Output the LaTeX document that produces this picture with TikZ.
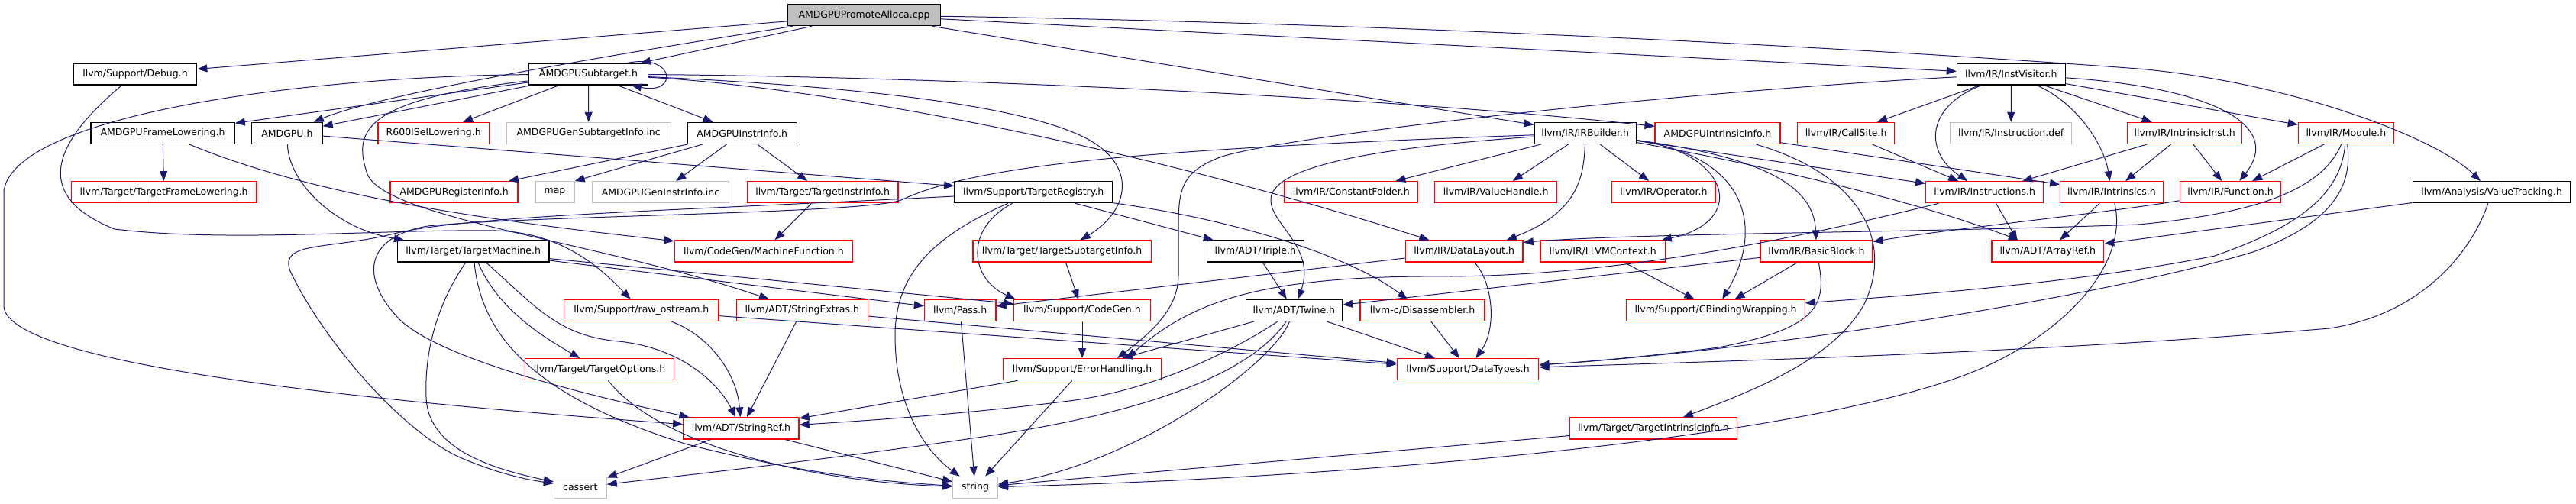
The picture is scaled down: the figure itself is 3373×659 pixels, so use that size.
\documentclass[tikz,border=0pt]{standalone}
\usepackage{fontspec}
\setmainfont{DejaVu Sans}
\usetikzlibrary{arrows.meta}
\definecolor{eblue}{HTML}{191970}
\definecolor{gseventyfive}{HTML}{BFBFBF}
\begin{document}
\begin{tikzpicture}[x=1pt,y=-1pt,
 box/.style={draw=black, line width=1.3pt, minimum height=28pt, inner sep=0pt, fill=white, text=black, font=\fontsize{12.5pt}{14pt}\selectfont},
 rbox/.style={box, draw=red},
 gbox/.style={box, draw=gseventyfive},
 tbox/.style={box, fill=gseventyfive},
 e/.style={draw=eblue, line width=1pt, -{Triangle[length=13pt,width=10pt]}}
]
\useasboundingbox (0,0) rectangle (3373,659);
% row 1
\node[tbox, minimum width=200pt] (top) at (1131.5,19.7) {AMDGPUPromoteAlloca.cpp};
% row 2
\node[box, minimum width=161.4pt] (debug) at (177,97.0) {llvm/Support/Debug.h};
\node[box, minimum width=155.6pt] (subt) at (770.5,97.0) {AMDGPUSubtarget.h};
\node[box, minimum width=141.8pt] (instv) at (2633.3,97.0) {llvm/IR/InstVisitor.h};
% row 3
\node[box, minimum width=188.3pt] (frlow) at (213,174.4) {AMDGPUFrameLowering.h};
\node[box, minimum width=92.3pt] (amdgpu) at (375.9,174.4) {AMDGPU.h};
\node[rbox, minimum width=145.2pt] (r600) at (567.7,174.4) {R600ISelLowering.h};
\node[gbox, minimum width=214.9pt] (gensub) at (770.7,174.4) {AMDGPUGenSubtargetInfo.inc};
\node[box, minimum width=142.9pt] (instrinfo) at (971.7,174.4) {AMDGPUInstrInfo.h};
\node[box, minimum width=133.4pt] (irb) at (2075.7,174.4) {llvm/IR/IRBuilder.h};
\node[rbox, minimum width=163.8pt] (intrinfo) at (2249,174.4) {AMDGPUIntrinsicInfo.h};
\node[rbox, minimum width=126.8pt] (callsite) at (2417.2,174.4) {llvm/IR/CallSite.h};
\node[gbox, minimum width=158.9pt] (instdef) at (2633.2,174.4) {llvm/IR/Instruction.def};
\node[rbox, minimum width=150pt] (intrinst) at (2860.6,174.4) {llvm/IR/IntrinsicInst.h};
\node[rbox, minimum width=124.7pt] (module) at (3071.8,174.4) {llvm/IR/Module.h};
% row 4
\node[rbox, minimum width=242.5pt] (tfl) at (214.7,251.7) {llvm/Target/TargetFrameLowering.h};
\node[rbox, minimum width=167pt] (reginfo) at (594.6,251.7) {AMDGPURegisterInfo.h};
\node[gbox, minimum width=50.9pt] (map) at (726.5,251.7) {map};
\node[gbox, minimum width=178.8pt] (geninstr) at (865,251.7) {AMDGPUGenInstrInfo.inc};
\node[rbox, minimum width=197.6pt] (tii) at (1077.2,251.7) {llvm/Target/TargetInstrInfo.h};
\node[box, minimum width=206.8pt] (treg) at (1353.2,251.7) {llvm/Support/TargetRegistry.h};
\node[rbox, minimum width=174.9pt] (cfold) at (1769.3,251.7) {llvm/IR/ConstantFolder.h};
\node[rbox, minimum width=159.6pt] (vh) at (1958.6,251.7) {llvm/IR/ValueHandle.h};
\node[rbox, minimum width=135.3pt] (oper) at (2178.4,251.7) {llvm/IR/Operator.h};
\node[rbox, minimum width=153.8pt] (insts) at (2598.6,251.7) {llvm/IR/Instructions.h};
\node[rbox, minimum width=134.7pt] (intrs) at (2765,251.7) {llvm/IR/Intrinsics.h};
\node[rbox, minimum width=132pt] (func) at (2920.5,251.7) {llvm/IR/Function.h};
\node[box, minimum width=206.9pt] (vt) at (3262.6,251.7) {llvm/Analysis/ValueTracking.h};
% row 5
\node[box, minimum width=198.4pt] (tm) at (619.7,329.0) {llvm/Target/TargetMachine.h};
\node[rbox, minimum width=233.3pt] (mf) at (999.9,329.0) {llvm/CodeGen/MachineFunction.h};
\node[rbox, minimum width=233.3pt] (tsi) at (1390.5,329.0) {llvm/Target/TargetSubtargetInfo.h};
\node[box, minimum width=127.1pt] (triple) at (1643.8,329.0) {llvm/ADT/Triple.h};
\node[rbox, minimum width=153.8pt] (dl) at (1917.2,329.0) {llvm/IR/DataLayout.h};
\node[rbox, minimum width=163.2pt] (ctx) at (2098.6,329.0) {llvm/IR/LLVMContext.h};
\node[rbox, minimum width=146.8pt] (bb) at (2378.5,329.0) {llvm/IR/BasicBlock.h};
\node[rbox, minimum width=146.8pt] (aref) at (2681.3,329.0) {llvm/ADT/ArrayRef.h};
% row 6
\node[rbox, minimum width=202.5pt] (ros) at (839.8,406.4) {llvm/Support/raw\_ostream.h};
\node[rbox, minimum width=172.2pt] (sext) at (1050.3,406.4) {llvm/ADT/StringExtras.h};
\node[rbox, minimum width=93.4pt] (pass) at (1257.2,406.4) {llvm/Pass.h};
\node[rbox, minimum width=179.6pt] (cgen) at (1417,406.4) {llvm/Support/CodeGen.h};
\node[box, minimum width=126.3pt] (twine) at (1694.3,406.4) {llvm/ADT/Twine.h};
\node[rbox, minimum width=162.9pt] (disasm) at (1862.5,406.4) {llvm-c/Disassembler.h};
\node[rbox, minimum width=233.5pt] (cbw) at (2246.5,406.4) {llvm/Support/CBindingWrapping.h};
% row 7
\node[rbox, minimum width=194.8pt] (topt) at (785,483.7) {llvm/Target/TargetOptions.h};
\node[rbox, minimum width=206.5pt] (errh) at (1417,483.7) {llvm/Support/ErrorHandling.h};
\node[rbox, minimum width=185.4pt] (dtypes) at (1922.1,483.7) {llvm/Support/DataTypes.h};
% row 8
\node[rbox, minimum width=151.2pt] (sref) at (970.4,561.0) {llvm/ADT/StringRef.h};
\node[rbox, minimum width=219pt] (tii2) at (2165,561.0) {llvm/Target/TargetIntrinsicInfo.h};
% row 9
\node[gbox, minimum width=68.7pt] (cassert) at (759.8,638.3) {cassert};
\node[gbox, minimum width=58.9pt] (string) at (1277,638.3) {string};

% ---- edges from the top file
\draw[e] (top) -- (debug);
\draw[e] (top) .. controls (620,100) and (470,135) .. (amdgpu);
\draw[e] (top) -- (subt);
\draw[e] (top) -- (irb);
\draw[e] (top) -- (instv);
\draw[e] (top) .. controls (1800,30) and (2400,60) .. (2800,90) .. controls (3000,108) and (3190,180) .. (vt);
% ---- AMDGPUSubtarget.h
\draw[e] ([xshift=-27pt]subt.north east) .. controls (885,70) and (888,125) .. ([xshift=-22pt]subt.south east);
\draw[e] (subt) -- (amdgpu);
\draw[e] (subt) -- (frlow);
\draw[e] (subt) -- (r600);
\draw[e] (subt) -- (gensub);
\draw[e] (subt) -- (instrinfo);
\draw[e] (subt) .. controls (1200,100) and (1800,125) .. (intrinfo);
\draw[e] (subt) .. controls (1100,112) and (1330,135) .. (1420,180) .. controls (1490,215) and (1480,275) .. (tsi);
\draw[e] (subt) .. controls (1050,112) and (1450,180) .. (dl);
\draw[e] (subt) .. controls (400,100) and (20,150) .. (5,250) -- (5,400) .. controls (5,470) and (400,520) .. (sref);
\draw[e] (subt) .. controls (480,130) and (462,170) .. (480,225) .. controls (495,285) and (780,315) .. (sext);
% ---- Debug.h
\draw[e] (debug) .. controls (90,170) and (25,250) .. (150,300) .. controls (300,318) and (500,300) .. (650,302) .. controls (740,305) and (790,355) .. (ros);
% ---- InstVisitor.h
\draw[e] (instv) -- (callsite);
\draw[e] (instv) -- (instdef);
\draw[e] (instv) .. controls (2520,140) and (2520,200) .. (insts);
\draw[e] (instv) .. controls (2720,135) and (2755,190) .. (intrs);
\draw[e] (instv) -- (intrinst);
\draw[e] (instv) -- (module);
\draw[e] (instv) .. controls (2900,115) and (2990,165) .. (func);
\draw[e] (instv) .. controls (2200,120) and (1700,175) .. (1600,205) .. controls (1545,225) and (1543,250) .. (1543,300) -- (1543,360) .. controls (1543,400) and (1515,430) .. ([xshift=-58pt]errh.north east);
% ---- AMDGPUFrameLowering.h
\draw[e] (frlow) -- (tfl);
\draw[e] (frlow) .. controls (430,265) and (700,295) .. (mf);
% ---- AMDGPU.h
\draw[e] (amdgpu) -- (treg);
\draw[e] (amdgpu) .. controls (378,240) and (440,300) .. (tm);
% ---- AMDGPUInstrInfo.h
\draw[e] (instrinfo) -- (reginfo);
\draw[e] ([xshift=-52pt]instrinfo.south) -- (map.north east);
\draw[e] (instrinfo) -- (geninstr);
\draw[e] (instrinfo) -- (tii);
% ---- IRBuilder.h
\draw[e] (irb) -- (cfold);
\draw[e] (irb) -- (vh);
\draw[e] (irb) -- (oper);
\draw[e] (irb) .. controls (2074,240) and (2060,280) .. ([xshift=-22pt]dl.north east);
\draw[e] (irb) -- (insts);
\draw[e] (irb) .. controls (2300,215) and (2500,260) .. (aref);
\draw[e] (irb) .. controls (2300,205) and (2375,240) .. (bb);
\draw[e] (irb) .. controls (2265,200) and (2290,290) .. ([xshift=-5pt]ctx.north east);
\draw[e] (irb) .. controls (2290,205) and (2310,300) .. (cbw);
\draw[e] (irb) .. controls (1850,190) and (1680,210) .. (1665,255) .. controls (1655,290) and (1725,320) .. (twine);
\draw[e] (irb) .. controls (1500,195) and (1280,215) .. (1180,262) .. controls (1130,280) and (700,282) .. (560,296) .. controls (480,310) and (470,360) .. (520,415) .. controls (570,470) and (780,520) .. (sref);
% ---- TargetMachine.h
\draw[e] (tm) .. controls (585,380) and (555,440) .. (558,520) .. controls (560,590) and (650,615) .. (cassert);
\draw[e] (tm) .. controls (630,440) and (700,520) .. (900,582) .. controls (1050,620) and (1150,630) .. (string);
\draw[e] (tm) .. controls (650,400) and (700,435) .. (topt);
\draw[e] (tm) .. controls (700,400) and (730,440) .. (810,447) .. controls (890,455) and (940,500) .. (sref);
\draw[e] (tm) -- (cgen);
\draw[e] (tm) -- (pass);
% ---- others in row 4/5
\draw[e] (tii) -- (mf);
\draw[e] (treg) .. controls (1262,300) and (1270,365) .. ([xshift=3pt]cgen.north west);
\draw[e] (treg) .. controls (1220,310) and (1172,360) .. (1172,440) .. controls (1172,530) and (1210,590) .. (string);
\draw[e] (treg) -- (triple);
\draw[e] (treg) .. controls (1600,285) and (1760,330) .. (disasm);
\draw[e] (treg) .. controls (900,275) and (620,282) .. (520,305) .. controls (430,328) and (365,315) .. (380,355) .. controls (420,440) and (520,560) .. (600,598) .. controls (650,620) and (690,628) .. (cassert);
\draw[e] (tsi) -- (cgen);
\draw[e] (triple) -- (twine);
\draw[e] (dl) -- (pass);
\draw[e] (dl) .. controls (1955,370) and (1960,430) .. (dtypes);
\draw[e] (ctx) -- (cbw);
\draw[e] (bb) -- (cbw);
\draw[e] (bb) -- (twine);
\draw[e] (bb) .. controls (2392,400) and (2380,430) .. (2250,455) .. controls (2150,468) and (2060,475) .. (dtypes);
\draw[e] (func) .. controls (2750,280) and (2550,300) .. (bb);
\draw[e] (module) -- (func);
\draw[e] (module) .. controls (3040,250) and (2950,280) .. (2800,294) .. controls (2500,305) and (2150,305) .. ([yshift=-3pt]dl.north east);
\draw[e] (module) .. controls (3065,260) and (3000,300) .. (2900,335) .. controls (2700,375) and (2450,390) .. (cbw);
\draw[e] (module) .. controls (3080,240) and (3060,290) .. (2950,330) .. controls (2750,390) and (2300,460) .. (dtypes);
\draw[e] (vt) -- (aref);
\draw[e] (vt) .. controls (3240,320) and (3180,410) .. (3050,430) .. controls (2700,460) and (2300,472) .. (dtypes);
\draw[e] (intrinst) -- (insts);
\draw[e] (intrinst) -- (intrs);
\draw[e] (intrinst) -- (func);
\draw[e] (callsite) -- (insts);
\draw[e] (intrinfo) -- (intrs);
\draw[e] (intrinfo) .. controls (2440,230) and (2480,320) .. (2440,400) .. controls (2400,470) and (2300,510) .. (tii2);
\draw[e] (intrs) .. controls (2785,330) and (2730,420) .. (2600,480) .. controls (2400,570) and (1800,625) .. (string);
\draw[e] (intrs) -- (aref);
\draw[e] ([xshift=15pt]insts.south) -- ([xshift=-40pt]aref.north);
\draw[e] (insts) .. controls (2400,300) and (2150,360) .. (1900,362) .. controls (1650,360) and (1560,395) .. ([xshift=-45pt]errh.north east);
% ---- rows 6-8
\draw[e] (sext) -- (sref);
\draw[e] (sext) -- (dtypes);
\draw[e] (ros) .. controls (930,440) and (965,490) .. (sref);
\draw[e] (ros) -- (dtypes);
\draw[e] (pass) -- (string);
\draw[e] (cgen) -- (errh);
\draw[e] (disasm) -- (dtypes);
\draw[e] (twine) -- (errh);
\draw[e] (twine) .. controls (1630,450) and (1520,510) .. (1400,525) .. controls (1250,544) and (1100,553) .. (sref);
\draw[e] (twine) .. controls (1650,470) and (1560,530) .. (1300,570) .. controls (1100,600) and (900,622) .. (cassert);
\draw[e] (twine) .. controls (1665,480) and (1480,610) .. (string);
\draw[e] (twine) -- (dtypes);
\draw[e] (topt) .. controls (860,580) and (1050,630) .. (string);
\draw[e] (errh) -- (string);
\draw[e] (errh) -- (sref);
\draw[e] (sref) -- (cassert);
\draw[e] (sref) -- (string);
\draw[e] (tii2) -- (string);
\end{tikzpicture}
\end{document}
